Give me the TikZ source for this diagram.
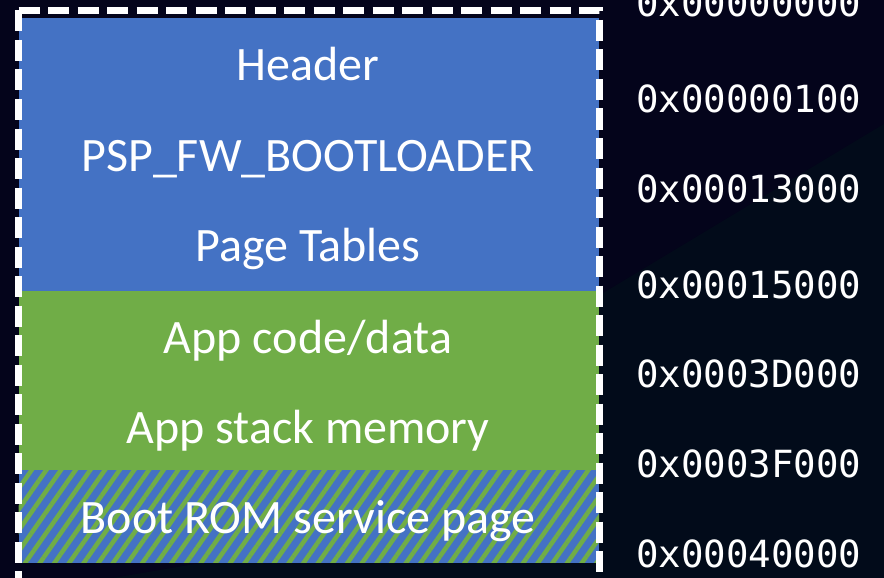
\documentclass[tikz,border=0pt]{standalone}
\usepackage{fontspec}
\setmainfont{Carlito}
\newfontfamily\addrfont{DejaVu Sans Mono}
\usetikzlibrary{patterns.meta}

\definecolor{bgnavy}{HTML}{04041B}
\definecolor{bgteal}{HTML}{020B1A}
\definecolor{fwblue}{HTML}{4472C4}
\definecolor{fwgreen}{HTML}{70AD47}

\begin{document}
\begin{tikzpicture}[
    x=1pt, y=-1pt,
    sect node/.style={anchor=base, text=white, inner sep=0pt, font=\fontsize{48}{52}\selectfont},
    addr node/.style={anchor=base west, text=white, inner sep=0pt, font=\addrfont\fontsize{37.4}{40}\selectfont},
    frame line/.style={draw=white, line width=7pt, dash pattern=on 21pt off 8.5pt}
]
\useasboundingbox (0,0) rectangle (884,578);
\clip (0,0) rectangle (884,578);

% background
\fill[bgnavy] (0,0) rectangle (884,578);
\fill[bgteal] (113,578) -- (600,495) -- (600,295) -- (884,124) -- (884,578) -- cycle;

% memory regions
\fill[fwblue]  (18.5,18)  rectangle (599,291);
\fill[fwgreen] (18.5,291) rectangle (599,470);
\fill[fwblue]  (18.5,470) rectangle (599,562.5);
\fill[pattern={Lines[angle=55, distance=12pt, line width=4.5pt]}, pattern color=fwgreen]
    (18.5,470) rectangle (599,562.5);

% dashed frame
\draw[frame line] (18.5,10.5) -- (599,10.5) -- (599,610);
\draw[frame line] (18.5,10.5) -- (18.5,610);

% region names
\node[sect node] (hdr)  at (308,81)  {Header};
\node[sect node] (boot) at (308,171) {PSP\_FW\_BOOTLOADER};
\node[sect node] (pgt)  at (308,261) {Page Tables};
\node[sect node] (code) at (308,353) {App code/data};
\node[sect node] (stk)  at (308,443) {App stack memory};
\node[sect node] (rom)  at (308,533) {Boot ROM service page};

% addresses
\node[addr node] (a0) at (636,17)  {0x00000000};
\node[addr node] (a1) at (636,112) {0x00000100};
\node[addr node] (a2) at (636,202) {0x00013000};
\node[addr node] (a3) at (636,298) {0x00015000};
\node[addr node] (a4) at (636,387) {0x0003D000};
\node[addr node] (a5) at (636,477) {0x0003F000};
\node[addr node] (a6) at (636,567) {0x00040000};

\end{tikzpicture}
\end{document}
